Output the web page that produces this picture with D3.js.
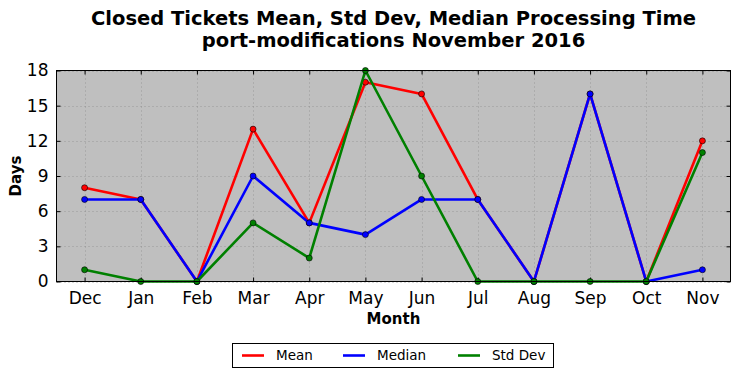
<!DOCTYPE html>
<html>
<head>
<meta charset="utf-8">
<script src="https://cdn.jsdelivr.net/npm/d3@7"></script>
<style>
  body { margin: 0; background: #fff; }
  svg { display: block; font-family: "DejaVu Sans", sans-serif; }
</style>
</head>
<body>
<svg width="740" height="378"></svg>
<script>
const months = ['Dec', 'Jan', 'Feb', 'Mar', 'Apr', 'May', 'Jun', 'Jul', 'Aug', 'Sep', 'Oct', 'Nov'];
const meanVals = [8, 7, 0, 13, 5, 17, 16, 7, 0, 16, 0, 12];
const medianVals = [7, 7, 0, 9, 5, 4, 7, 7, 0, 16, 0, 1];
const stdVals = [1, 0, 0, 5, 2, 18, 9, 0, 0, 0, 0, 11];
const yTicks = [0, 3, 6, 9, 12, 15, 18];

const series = [
    {name: 'Mean', color: '#ff0000', values: meanVals},
    {name: 'Median', color: '#0000ff', values: medianVals},
    {name: 'Std Dev', color: '#008000', values: stdVals},
];

const pLeft = 56.5, pRight = 730.5, pTop = 70.5, pBottom = 281.5;

const svg = d3.select('svg');

const x = d3.scaleLinear().domain([-0.5, months.length - 0.5]).range([pLeft, pRight]);
const y = d3.scaleLinear().domain([0, 18]).range([pBottom, pTop]);

// background
svg.append('rect')
    .attr('x', pLeft).attr('y', pTop)
    .attr('width', pRight - pLeft).attr('height', pBottom - pTop)
    .attr('fill', '#bfbfbf');

// grid
const grid = svg.append('g');
grid.selectAll('.vg').data(months).enter().append('line')
    .attr('x1', (d, i) => Math.round(x(i)) + 0.5).attr('x2', (d, i) => Math.round(x(i)) + 0.5)
    .attr('y1', pTop).attr('y2', pBottom)
    .attr('stroke', '#7f7f7f').attr('stroke-width', 0.6).attr('stroke-dasharray', '1,3');
grid.selectAll('.hg').data(yTicks).enter().append('line')
    .attr('x1', pLeft).attr('x2', pRight)
    .attr('y1', d => Math.round(y(d)) + 0.5).attr('y2', d => Math.round(y(d)) + 0.5)
    .attr('stroke', '#7f7f7f').attr('stroke-width', 0.6).attr('stroke-dasharray', '1,3');

// axes (ticks inward, mirrored)
const xAxis = d3.axisBottom(x).tickValues(d3.range(months.length)).tickFormat(i => months[i])
    .tickSizeInner(-4).tickSizeOuter(0).tickPadding(10);
const yAxis = d3.axisLeft(y).tickValues(yTicks).tickSizeInner(-4).tickSizeOuter(0).tickPadding(8);

const gx = svg.append('g').attr('transform', `translate(0,${pBottom})`).call(xAxis);
const gy = svg.append('g').attr('transform', `translate(${pLeft},0)`).call(yAxis);
svg.append('g').attr('transform', `translate(0,${pTop})`)
    .call(d3.axisTop(x).tickValues(d3.range(months.length)).tickFormat('').tickSizeInner(-4).tickSizeOuter(0));
svg.append('g').attr('transform', `translate(${pRight},0)`)
    .call(d3.axisRight(y).tickValues(yTicks).tickFormat('').tickSizeInner(-4).tickSizeOuter(0));

svg.selectAll('.domain').remove();
svg.selectAll('.tick line').attr('stroke', '#000');
gx.selectAll('text').attr('font-size', 17).attr('fill', '#000').attr('font-family', 'DejaVu Sans');
gy.selectAll('text').attr('font-size', 17).attr('fill', '#000').attr('font-family', 'DejaVu Sans');

// lines and markers
const line = d3.line().x((d, i) => x(i)).y(d => y(d));
series.forEach(s => {
    svg.append('path')
        .datum(s.values)
        .attr('d', line)
        .attr('fill', 'none')
        .attr('stroke', s.color)
        .attr('stroke-width', 2.6)
        .attr('stroke-linejoin', 'round');
    svg.selectAll('.m-' + s.name.replace(' ', ''))
        .data(s.values)
        .enter().append('circle')
        .attr('cx', (d, i) => x(i))
        .attr('cy', d => y(d))
        .attr('r', 3)
        .attr('fill', s.color)
        .attr('stroke', '#000')
        .attr('stroke-width', 0.6);
});

// frame
svg.append('rect')
    .attr('x', pLeft).attr('y', pTop)
    .attr('width', pRight - pLeft).attr('height', pBottom - pTop)
    .attr('fill', 'none').attr('stroke', '#000').attr('stroke-width', 1);

// titles
const cx = (pLeft + pRight) / 2;
svg.append('text').attr('x', cx).attr('y', 25).attr('text-anchor', 'middle')
    .attr('font-size', 19.5).attr('font-weight', 'bold')
    .text('Closed Tickets Mean, Std Dev, Median Processing Time');
svg.append('text').attr('x', cx).attr('y', 47).attr('text-anchor', 'middle')
    .attr('font-size', 19.5).attr('font-weight', 'bold')
    .text('port-modifications November 2016');
svg.append('text').attr('x', cx).attr('y', 324).attr('text-anchor', 'middle')
    .attr('font-size', 15).attr('font-weight', 'bold').text('Month');
svg.append('text').attr('transform', `translate(21,${(pTop + pBottom) / 2}) rotate(-90)`)
    .attr('text-anchor', 'middle')
    .attr('font-size', 15).attr('font-weight', 'bold').text('Days');

// legend
const legend = svg.append('g');
legend.append('rect').attr('x', 232.5).attr('y', 343.5).attr('width', 321).attr('height', 24)
    .attr('fill', '#fff').attr('stroke', '#000').attr('stroke-width', 1);
const legX = [242, 343, 458];
series.forEach((s, i) => {
    legend.append('line').attr('x1', legX[i]).attr('x2', legX[i] + 22)
        .attr('y1', 355.5).attr('y2', 355.5)
        .attr('stroke', s.color).attr('stroke-width', 2.6);
    legend.append('text').attr('x', legX[i] + 34).attr('y', 360)
        .attr('font-size', 13.5).text(s.name);
});
</script>
</body>
</html>
